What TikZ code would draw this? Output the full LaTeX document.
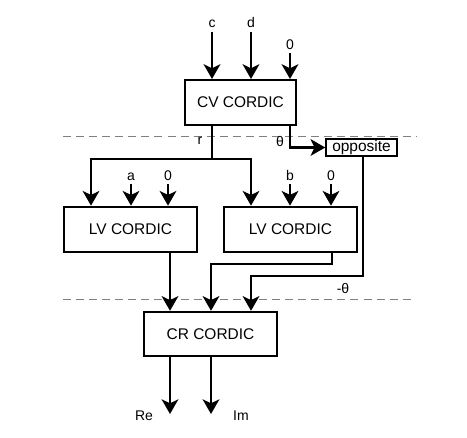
\documentclass[tikz,border=0pt]{standalone}
\usepackage{fontspec}
\setmainfont{Liberation Sans}
\usetikzlibrary{arrows.meta}
\begin{document}
\begin{tikzpicture}[x=0.75pt, y=-0.75pt,
	block/.style={draw, line width=1.8pt, inner sep=0pt, minimum width=99.5pt, minimum height=34pt, font=\fontsize{11.6}{13}\selectfont},
	lbl/.style={font=\fontsize{10.5}{12}\selectfont, inner sep=1pt},
	arr/.style={line width=1.8pt, -{Stealth[length=11pt, width=12.5pt, inset=3pt]}},
	sep/.style={gray, line width=0.6pt, dash pattern=on 6pt off 3.8pt}]
\useasboundingbox (0,0) rectangle (467,437);
\node[block, minimum width=83pt, minimum height=33.5pt] (cv) at (240.5,102.5) {CV CORDIC};
\node[block, line width=1.4pt, minimum width=53pt, minimum height=12.5pt] (opp) at (361.5,147.5) {opposite};
\node[block] (lvA) at (130.5,229.5) {LV CORDIC};
\node[block] (lvB) at (290.5,229.5) {LV CORDIC};
\node[block, minimum height=33pt] (cr) at (210.5,334) {CR CORDIC};
\draw[sep] (63,136) -- (417,136);
\draw[sep] (63,299) -- (412,299);
\coordinate[label={[lbl, label distance=2pt]above:c}] (inc) at (212,32);
\coordinate[label={[lbl, label distance=2pt]above:d}] (ind) at (251,32);
\coordinate[label={[lbl, label distance=1pt]above:0}] (inz) at (290,53);
\draw[arr] (inc) -- (inc |- cv.north);
\draw[arr] (ind) -- (ind |- cv.north);
\draw[arr] (inz) -- (inz |- cv.north);
\coordinate[label={[lbl, label distance=1pt]above:a}] (ina) at (131,184);
\coordinate[label={[lbl, label distance=1pt]above:0}] (inaz) at (168,184);
\coordinate[label={[lbl, label distance=1pt]above:b}] (inb) at (290,184);
\coordinate[label={[lbl, label distance=1pt]above:0}] (inbz) at (331,184);
\draw[arr] (ina) -- (ina |- lvA.north);
\draw[arr] (inaz) -- (inaz |- lvA.north);
\draw[arr] (inb) -- (inb |- lvB.north);
\draw[arr] (inbz) -- (inbz |- lvB.north);
\coordinate (rsplit) at (212,159);
\draw[line width=1.8pt] (cv.south -| rsplit) -- (rsplit);
\draw[arr] (rsplit) -| (91,0 |- lvA.north);
\draw[arr] (rsplit) -| (251,0 |- lvB.north);
\node[lbl] (rlbl) at (200,141) {r};
\draw[arr] (cv.south -| 290,0) |- (opp.west);
\node[lbl] (thlbl) at (280,141) {θ};
\draw[arr] (lvA.south -| 170,0) -- (170,0 |- cr.north);
\coordinate (lvbend) at (332,264);
\draw[arr] (lvB.south -| lvbend) -- (lvbend) -| (211,0 |- cr.north);
\coordinate (negbend) at (363,276);
\draw[arr] (opp.south -| negbend) -- (negbend) -| (251,0 |- cr.north);
\node[lbl] (neglbl) at (343,288) {-θ};
\coordinate (re) at (170,414);
\coordinate (im) at (211,414);
\draw[arr] (cr.south -| re) -- (re);
\draw[arr] (cr.south -| im) -- (im);
\node[lbl] (relbl) at (144,416) {Re};
\node[lbl] (imlbl) at (241,416) {Im};
\end{tikzpicture}
\end{document}
